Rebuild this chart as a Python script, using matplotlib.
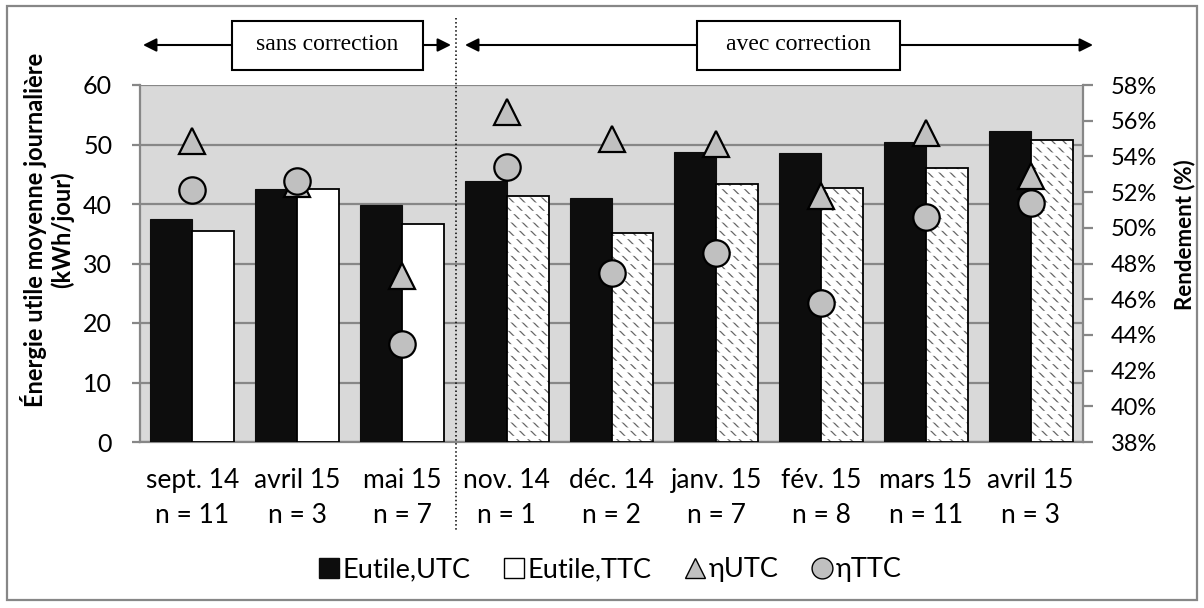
import matplotlib
matplotlib.use('Agg')
import matplotlib.pyplot as plt
from matplotlib.lines import Line2D
from matplotlib.patches import Rectangle
from matplotlib.ticker import PercentFormatter, MultipleLocator
import numpy as np

plt.rcParams['font.family'] = ['Lato', 'DejaVu Sans']
plt.rcParams['hatch.linewidth'] = 0.9

# Data
months = ['sept. 14', 'avril 15', 'mai 15', 'nov. 14', 'déc. 14',
          'janv. 15', 'fév. 15', 'mars 15', 'avril 15']
n_days = [11, 3, 7, 1, 2, 7, 8, 11, 3]
corrected = [False, False, False, True, True, True, True, True, True]
e_utc = [37.4, 42.6, 39.9, 43.8, 41.0, 48.8, 48.5, 50.4, 52.3]
e_ttc = [35.5, 42.5, 36.6, 41.4, 35.2, 43.3, 42.7, 46.1, 50.7]
eta_utc = [54.85, 52.45, 47.3, 56.5, 55.0, 54.7, 51.8, 55.3, 52.9]
eta_ttc = [52.1, 52.6, 43.5, 53.4, 47.45, 48.6, 45.8, 50.6, 51.4]

GRID = '#878787'
PLOT_BG = '#d9d9d9'
MARKER_FILL = '#c0c0c0'
BAR_BLACK = '#0d0d0d'

W, H = 1204, 608
fig = plt.figure(figsize=(W / 100, H / 100), dpi=100)
fig.patch.set_facecolor('white')

ax = fig.add_axes([140 / W, 1 - 442 / H, (1083 - 140) / W, (442 - 85) / H])
ax.set_facecolor(PLOT_BG)
x = np.arange(len(months))
bw = 0.4

ax.bar(x - bw / 2, e_utc, bw, color=BAR_BLACK, edgecolor=BAR_BLACK, linewidth=0.8, zorder=3)
for xi, v, c in zip(x, e_ttc, corrected):
    if c:
        # dashed diagonal pattern: gray diagonals broken up by white horizontal stripes
        ax.bar(xi + bw / 2, v, bw, color='white', edgecolor='#666666', hatch='\\\\\\',
               linewidth=0, zorder=3)
        stripes = ax.bar(xi + bw / 2, v, bw, color='none', edgecolor='white', hatch='--',
                         linewidth=0, zorder=3.5)
        if hasattr(stripes[0], 'set_hatch_linewidth'):
            stripes[0].set_hatch_linewidth(2.4)
        else:
            stripes[0].set_visible(False)
        ax.bar(xi + bw / 2, v, bw, color='none', edgecolor='black', linewidth=1.3, zorder=4)
    else:
        ax.bar(xi + bw / 2, v, bw, color='white', edgecolor='black', linewidth=1.3, zorder=3)

ax.set_xlim(-0.5, len(months) - 0.5)
ax.set_ylim(0, 60)
ax.yaxis.set_major_locator(MultipleLocator(10))
ax.grid(axis='y', color=GRID, linewidth=1.6, zorder=1)
ax.set_axisbelow(True)
for s in ['left', 'bottom', 'right']:
    ax.spines[s].set_color(GRID)
    ax.spines[s].set_linewidth(1.6)
ax.spines['top'].set_visible(False)
ax.tick_params(axis='y', length=6, width=1.6, color=GRID, labelsize=18, pad=14)
ax.set_xticks(x)
ax.set_xticklabels([f'{m}\nn = {n}' for m, n in zip(months, n_days)],
                   fontsize=19, linespacing=1.5)
ax.tick_params(axis='x', length=0, pad=19)

# Efficiency markers on the secondary axis
ax2 = ax.twinx()
ax2.set_ylim(0.38, 0.58)
ax2.yaxis.set_major_locator(MultipleLocator(0.02))
ax2.yaxis.set_major_formatter(PercentFormatter(1.0, decimals=0))
ax2.plot(x, np.array(eta_utc) / 100, linestyle='none', marker='^', markersize=19,
         markerfacecolor=MARKER_FILL, markeredgecolor='black', markeredgewidth=1.6, zorder=5)
ax2.plot(x, np.array(eta_ttc) / 100, linestyle='none', marker='o', markersize=19,
         markerfacecolor=MARKER_FILL, markeredgecolor='black', markeredgewidth=1.6, zorder=6)
for s in ax2.spines.values():
    s.set_visible(False)
ax2.tick_params(axis='y', length=7, width=1.6, color=GRID, labelsize=17, pad=13)

# Axis titles
fig.text(47 / W, 1 - 230 / H, 'Énergie utile moyenne journalière\n(kWh/jour)', rotation=90,
         ha='center', va='center', fontsize=17, fontweight='bold', linespacing=1.2)
fig.text(1185 / W, 1 - 235 / H, 'Rendement (%)', rotation=90,
         ha='center', va='center', fontsize=16, fontweight='bold')

# Legend
handles = [
    Line2D([], [], linestyle='none', marker='s', markersize=14, markerfacecolor=BAR_BLACK,
           markeredgecolor=BAR_BLACK),
    Line2D([], [], linestyle='none', marker='s', markersize=14, markerfacecolor='white',
           markeredgecolor='black', markeredgewidth=1.0),
    Line2D([], [], linestyle='none', marker='^', markersize=15, markerfacecolor=MARKER_FILL,
           markeredgecolor='black', markeredgewidth=1.0),
    Line2D([], [], linestyle='none', marker='o', markersize=15, markerfacecolor=MARKER_FILL,
           markeredgecolor='black', markeredgewidth=1.0),
]
fig.legend(handles, ['Eutile,UTC', 'Eutile,TTC', 'ηUTC', 'ηTTC'], ncol=4,
           loc='center', bbox_to_anchor=(610 / W, 1 - 570 / H), frameon=False,
           fontsize=19.5, handlelength=0.8, handletextpad=0.1, columnspacing=1.2)

# Overlay in pixel coordinates for the period annotations
ov = fig.add_axes([0, 0, 1, 1], zorder=10)
ov.set_xlim(0, W)
ov.set_ylim(H, 0)
ov.axis('off')
ov.patch.set_alpha(0)

ov.add_patch(Rectangle((7, 6), 1190, 594, fill=False, edgecolor=GRID, linewidth=1.6))
ov.plot([456, 456], [18, 532], color='black', linestyle=':', linewidth=1.1)


def period_box(x0, x1, tip_l, tip_r, label):
    ov.add_patch(Rectangle((x0, 21), x1 - x0, 49, facecolor='white', edgecolor='black',
                           linewidth=1.5))
    ov.text((x0 + x1) / 2, 45, label, ha='center', va='center', fontsize=17,
            family='Liberation Serif')
    for start, tip in [(x0, tip_l), (x1, tip_r)]:
        ov.annotate('', xy=(tip, 45), xytext=(start, 45),
                    arrowprops=dict(arrowstyle='-|>', color='black', lw=1.5,
                                    mutation_scale=20, shrinkA=0, shrinkB=0))


period_box(232, 423, 143, 451, 'sans correction')
period_box(697, 900, 465, 1093, 'avec correction')

plt.savefig('out.png', dpi=100, facecolor='white')
plt.close()
